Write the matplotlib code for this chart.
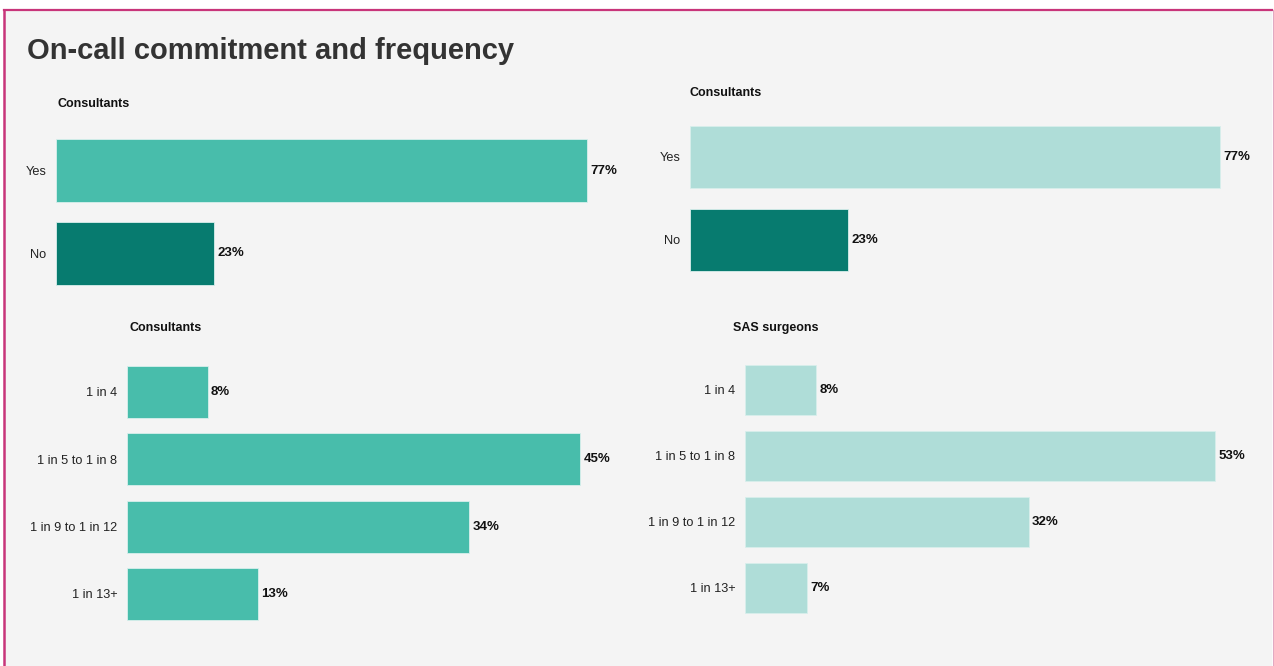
import matplotlib.pyplot as plt
from matplotlib.patches import Rectangle

plt.rcParams['font.family'] = ['Liberation Sans', 'DejaVu Sans']

# Data
commit_labels = ['Yes', 'No']
commit_consultants = [77, 23]
commit_sas = [77, 23]

freq_labels = ['1 in 4', '1 in 5 to 1 in 8', '1 in 9 to 1 in 12', '1 in 13+']
freq_consultants = [8, 45, 34, 13]
freq_sas = [8, 53, 32, 7]

W, H = 1274, 666
bg = '#f4f4f4'
mid_teal = '#48bdab'
dark_teal = '#077b6f'
light_teal = '#afddd8'

fig = plt.figure(figsize=(W / 100, H / 100), dpi=100)
fig.patch.set_facecolor('white')

# page background with magenta frame
fig.patches.append(Rectangle((4 / W, 0), (1268) / W, (H - 10) / H,
                             transform=fig.transFigure, facecolor=bg,
                             edgecolor='none', zorder=-5))
fig.add_artist(plt.Line2D([4 / W, 1272 / W], [1 - 10 / H, 1 - 10 / H],
                          color='#c8357a', lw=1.6, zorder=-4))
fig.add_artist(plt.Line2D([4 / W, 4 / W], [0, 1 - 10 / H],
                          color='#c8357a', lw=1.8, zorder=-4))
fig.add_artist(plt.Line2D([1272.5 / W, 1272.5 / W], [0, 1 - 10 / H],
                          color='#e2a9c2', lw=0.8, zorder=-4))

fig.text(27 / W, 1 - 51 / H, 'On-call commitment and frequency',
         fontsize=21, fontweight='bold', color='#333333', va='center', ha='left')


def panel(left, scale, center0, step, labels, values, colors, width_frac):
    n = len(values)
    top = center0 - step / 2
    bottom = center0 + step * (n - 1) + step / 2
    width = 560
    ax = fig.add_axes([left / W, 1 - bottom / H, width / W, (bottom - top) / H])
    ax.set_facecolor('none')
    ys = list(range(n))
    ax.barh(ys, values, height=width_frac, color=colors,
            edgecolor='#d8efec', linewidth=0.6)
    ax.set_xlim(0, width / scale)
    ax.set_ylim(n - 0.5, -0.5)
    ax.set_yticks(ys)
    ax.set_yticklabels(labels, fontsize=9.2, color='#222222')
    ax.tick_params(axis='y', length=0, pad=7)
    ax.set_xticks([])
    for s in ax.spines.values():
        s.set_visible(False)
    for y, v in zip(ys, values):
        ax.text(v + 3.5 / scale, y, f'{v}%', va='center', ha='left',
                fontsize=9.5, fontweight='bold', color='#111111')
    return ax


panel(56, 6.89, 170.5, 83, commit_labels, commit_consultants,
      [mid_teal, dark_teal], 0.76)
panel(690, 6.88, 157, 83, commit_labels, commit_sas,
      [light_teal, dark_teal], 0.75)
panel(127, 10.07, 392, 67.3, freq_labels, freq_consultants,
      [mid_teal] * 4, 0.77)
panel(745, 8.86, 390, 66, freq_labels, freq_sas,
      [light_teal] * 4, 0.76)

# panel headings
fig.text(58 / W, 1 - 104 / H, 'Consultants', fontsize=9, fontweight='bold',
         color='#111111', ha='left', va='center')
fig.text(689 / W, 1 - 93 / H, 'Consultants', fontsize=9, fontweight='bold',
         color='#111111', ha='left', va='center')
fig.text(166 / W, 1 - 328 / H, 'Consultants', fontsize=9, fontweight='bold',
         color='#111111', ha='center', va='center')
fig.text(776 / W, 1 - 328 / H, 'SAS surgeons', fontsize=9, fontweight='bold',
         color='#111111', ha='center', va='center')

fig.savefig('out.png', dpi=100, facecolor=fig.get_facecolor())
